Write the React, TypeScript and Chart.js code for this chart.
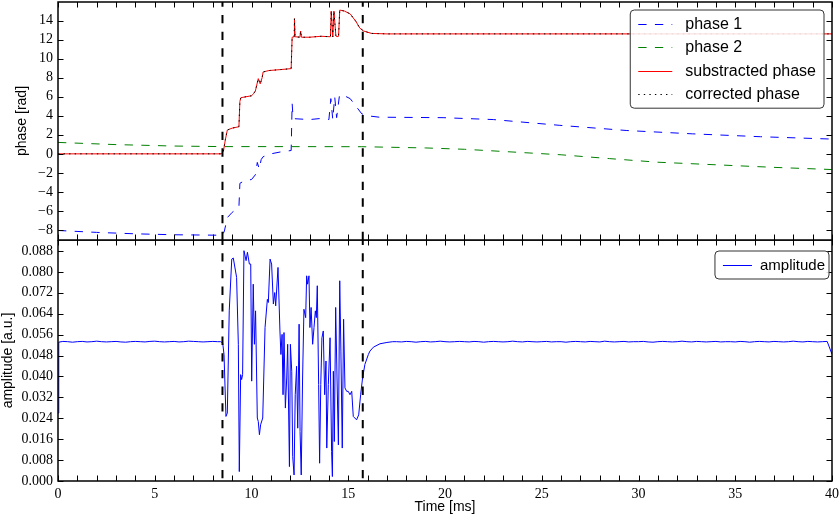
import React, { useEffect, useRef } from 'react';
import { Chart, registerables } from 'chart.js';

Chart.register(...registerables);

// ---------- data ----------
const timeTicks = [0, 5, 10, 15, 20, 25, 30, 35, 40];
const timeMinorTicks = [0, 1, 2, 3, 4, 5, 6, 7, 8, 9, 10, 11, 12, 13, 14, 15, 16, 17, 18, 19, 20,
  21, 22, 23, 24, 25, 26, 27, 28, 29, 30, 31, 32, 33, 34, 35, 36, 37, 38, 39, 40];
const phaseTicks = [-8, -6, -4, -2, 0, 2, 4, 6, 8, 10, 12, 14];
const ampTicks = [0, 0.008, 0.016, 0.024, 0.032, 0.04, 0.048, 0.056, 0.064, 0.072, 0.08, 0.088];

const PHASE_MIN = -9.05;
const PHASE_MAX = 15.95;
const AMP_MIN = 0;
const AMP_MAX = 0.0922;
const TIME_MIN = 0;
const TIME_MAX = 40;

// vertical event markers (ms)
const markerTimes = [8.5, 15.75];

const phase1Time = [0, 2, 4, 6, 8.5, 8.6, 8.75, 9.0, 9.35, 9.4, 9.65, 10.0, 10.2, 10.3, 10.4, 10.5, 10.6, 11.0, 11.5, 12.05, 12.1, 12.15, 13.0, 13.5, 14.0, 14.1, 14.2, 14.3, 14.4, 14.55, 14.8, 15.1, 15.4, 15.7, 16.0, 16.6, 19.9, 22.5, 25.9, 29.4, 32.8, 36.3, 40];
const phase1Value = [-8.05, -8.25, -8.4, -8.5, -8.55, -8.1, -6.7, -6.15, -5.6, -3.1, -2.8, -2.7, -2.2, -0.9, -1.6, -0.6, -0.3, 0.0, 0.2, 0.35, 5.3, 3.7, 3.6, 3.7, 3.6, 5.8, 3.6, 6.0, 3.8, 6.2, 6.1, 5.8, 5.0, 4.2, 4.0, 3.85, 3.8, 3.6, 3.0, 2.45, 2.1, 1.8, 1.55];

const phase2Time = [0, 3, 6, 8.5, 12, 15.7, 19, 21, 23, 26, 28.5, 31, 34, 37, 40];
const phase2Value = [1.2, 0.97, 0.82, 0.76, 0.76, 0.75, 0.62, 0.48, 0.25, -0.1, -0.5, -0.88, -1.15, -1.42, -1.65];

const subTime = [0, 8.45, 8.55, 8.65, 8.75, 9.0, 9.35, 9.4, 9.45, 10.0, 10.1, 10.2, 10.35, 10.45, 10.55, 10.6, 10.9, 11.5, 12.05, 12.1, 12.2, 12.22, 12.25, 12.5, 12.54, 12.58, 13.0, 13.6, 14.08, 14.12, 14.2, 14.26, 14.36, 14.42, 14.5, 14.56, 14.8, 15.1, 15.4, 15.6, 15.8, 16.2, 17, 40];
const subValue = [0, 0, 0.3, 1.5, 2.5, 2.7, 2.85, 5.5, 5.9, 6.1, 6.3, 6.6, 7.9, 7.35, 8.0, 8.6, 8.75, 8.85, 8.95, 12.25, 12.3, 14.2, 12.3, 12.25, 12.9, 12.25, 12.25, 12.35, 12.3, 15.0, 12.3, 15.0, 12.4, 12.3, 12.35, 15.1, 15.0, 14.7, 13.9, 13.2, 12.9, 12.65, 12.6, 12.6];

const corrTime = [0, 8.45, 8.55, 8.65, 8.75, 9.0, 9.35, 9.4, 9.45, 10.0, 10.1, 10.2, 10.35, 10.45, 10.55, 10.6, 10.9, 11.5, 12.05, 12.1, 12.2, 12.22, 12.25, 12.5, 12.54, 12.58, 13.0, 13.6, 14.08, 14.12, 14.2, 14.26, 14.36, 14.42, 14.5, 14.56, 14.8, 15.1, 15.4, 15.6, 15.8, 16.2, 17, 40];
const corrValue = [0, 0, 0.3, 1.5, 2.5, 2.7, 2.85, 5.5, 5.9, 6.1, 6.3, 6.6, 7.9, 7.35, 8.0, 8.6, 8.75, 8.85, 8.95, 12.25, 12.3, 14.2, 12.3, 12.25, 12.9, 12.25, 12.25, 12.35, 12.3, 15.0, 12.3, 15.0, 12.4, 12.3, 12.35, 15.1, 15.0, 14.7, 13.9, 13.2, 12.9, 12.65, 12.6, 12.6];

// amplitude: start transient
const ampHeadTime = [0, 0.04];
const ampHeadValue = [0.026, 0.0531];
// amplitude: quiet baseline before the event, sampled every 0.25 ms from 0.25 ms
const ampPreStart = 0.25;
const ampPreStep = 0.25;
const ampPreValue = [0.0534, 0.0533, 0.0531, 0.0533, 0.0534, 0.0532, 0.0533, 0.0535, 0.0533, 0.0532,
  0.0533, 0.0534, 0.0532, 0.0531, 0.0533, 0.0534, 0.0533, 0.0532, 0.0534, 0.0535,
  0.0533, 0.0532, 0.0533, 0.0534, 0.0532, 0.0533, 0.0535, 0.0534, 0.0533, 0.0532,
  0.0533, 0.0534, 0.0533];
// amplitude: during the event
const ampEventTime = [8.4, 8.51, 8.58, 8.68, 8.75, 8.85, 8.98, 9.06, 9.23, 9.32,
  9.37, 9.44, 9.49, 9.54, 9.61, 9.72, 9.79, 9.89, 9.96, 10.01,
  10.09, 10.15, 10.21, 10.30, 10.35, 10.41, 10.47, 10.58, 10.70, 10.82,
  10.87, 10.96, 11.04, 11.13, 11.20, 11.25, 11.37, 11.47, 11.52, 11.58,
  11.63, 11.68, 11.75, 11.82, 11.87, 11.96, 12.01, 12.08, 12.13, 12.20,
  12.26, 12.33, 12.39, 12.46, 12.51, 12.57, 12.64, 12.71, 12.80, 12.85,
  12.90, 12.97, 13.02, 13.08, 13.16, 13.23, 13.30, 13.35, 13.40, 13.47,
  13.52, 13.58, 13.64, 13.71, 13.78, 13.85, 13.89, 13.97, 14.06, 14.14,
  14.18, 14.23, 14.28, 14.35, 14.42, 14.49, 14.56, 14.62, 14.69, 14.76,
  14.83, 14.92, 15.00, 15.09, 15.18, 15.26, 15.43, 15.54, 15.64, 15.74,
  15.86, 16.04, 16.12, 16.3, 16.64, 17.0, 17.3];
const ampEventValue = [0.0533, 0.0529, 0.0484, 0.0247, 0.0260, 0.0651, 0.0849, 0.0853, 0.0779, 0.0523,
  0.0036, 0.0407, 0.0388, 0.0407, 0.0881, 0.0843, 0.0875, 0.0830, 0.0830, 0.0382,
  0.0753, 0.0523, 0.0651, 0.0241, 0.0228, 0.0177, 0.0215, 0.0241, 0.0587, 0.0695,
  0.0683, 0.0849, 0.0830, 0.0677, 0.0721, 0.0670, 0.0817, 0.0574, 0.0484, 0.0561,
  0.0330, 0.0568, 0.0279, 0.0394, 0.0523, 0.0055, 0.0523, 0.0420, 0.0093, 0.0023,
  0.0330, 0.0439, 0.0202, 0.0600, 0.0189, 0.0023, 0.0394, 0.0657, 0.0625, 0.0785,
  0.0753, 0.0785, 0.0587, 0.0664, 0.0523, 0.0587, 0.0651, 0.0625, 0.0747, 0.0369,
  0.0068, 0.0369, 0.0548, 0.0574, 0.0330, 0.0459, 0.0126, 0.0369, 0.0548, 0.0113,
  0.0017, 0.0420, 0.0151, 0.0664, 0.0394, 0.0138, 0.0766, 0.0497, 0.0126, 0.0619,
  0.0356, 0.0343, 0.0343, 0.0330, 0.0343, 0.0247, 0.0234, 0.0253, 0.0330, 0.0394,
  0.0446, 0.0484, 0.0497, 0.0512, 0.0525, 0.0530, 0.0533];
// amplitude: quiet baseline after the event, sampled every 0.25 ms from 17.5 ms
const ampPostStart = 17.5;
const ampPostStep = 0.25;
const ampPostValue = [0.0533, 0.0532, 0.0534, 0.0533, 0.0531, 0.0533, 0.0534, 0.0532, 0.0533, 0.0535,
  0.0533, 0.0532, 0.0533, 0.0534, 0.0533, 0.0532, 0.0534, 0.0533, 0.0531, 0.0533,
  0.0534, 0.0533, 0.0532, 0.0533, 0.0535, 0.0533, 0.0532, 0.0534, 0.0533, 0.0532,
  0.0533, 0.0534, 0.0532, 0.0533, 0.0533, 0.0531, 0.0533, 0.0534, 0.0533, 0.0532,
  0.0534, 0.0533, 0.0532, 0.0535, 0.0533, 0.0532, 0.0533, 0.0534, 0.0532, 0.0533,
  0.0533, 0.0534, 0.0532, 0.0531, 0.0533, 0.0534, 0.0533, 0.0532, 0.0533, 0.0535,
  0.0533, 0.0532, 0.0534, 0.0533, 0.0532, 0.0533, 0.0534, 0.0532, 0.0533, 0.0533,
  0.0532, 0.0534, 0.0533, 0.0531, 0.0533, 0.0534, 0.0533, 0.0532, 0.0534, 0.0533,
  0.0532, 0.0533, 0.0535, 0.0533, 0.0532, 0.0534, 0.0533, 0.0532, 0.0533, 0.0534];
const ampTailTime = [40];
const ampTailValue = [0.0485];

// ---------- helpers ----------
type Pt = { x: number; y: number };
const pairs = (t: number[], v: number[]): Pt[] => t.map((x, i) => ({ x, y: v[i] }));
const sampled = (start: number, step: number, v: number[]): Pt[] =>
  v.map((y, i) => ({ x: +(start + i * step).toFixed(4), y }));

const amplitudePoints: Pt[] = [
  ...pairs(ampHeadTime, ampHeadValue),
  ...sampled(ampPreStart, ampPreStep, ampPreValue),
  ...pairs(ampEventTime, ampEventValue),
  ...sampled(ampPostStart, ampPostStep, ampPostValue),
  ...pairs(ampTailTime, ampTailValue),
];

const PT = 100 / 72; // px per point
const DASH = [6 * PT, 6 * PT];
const DOT = [1 * PT, 3 * PT];
const LW = 1;
const FRAME_LW = 1.5;

const SERIF = '"Liberation Serif", "DejaVu Serif", serif';
const SANS = '"Liberation Sans", "DejaVu Sans", sans-serif';

const fmtPhase = (v: number) => (v < 0 ? '\u2212' + Math.abs(v) : String(v));

const markerDatasets = (lo: number, hi: number) =>
  markerTimes.map((t) => ({
    label: '',
    data: [{ x: t, y: lo }, { x: t, y: hi }],
    borderColor: '#000000',
    borderWidth: 2,
    borderDash: DASH,
    pointRadius: 0,
    fill: false,
    order: 0,
  }));

// frame with inward ticks on all sides + matplotlib-like legend
const mplPlugin = {
  id: 'mplFrame',
  afterDraw(chart: any, _args: any, opts: any) {
    const { ctx, chartArea: a, scales } = chart;
    const x = scales.x;
    const y = scales.y;
    ctx.save();
    ctx.strokeStyle = '#000';
    ctx.lineWidth = 1;
    ctx.setLineDash([]);
    const tl = 5.5;
    ctx.beginPath();
    for (const t of timeMinorTicks) {
      const px = Math.round(x.getPixelForValue(t)) + 0.5;
      ctx.moveTo(px, a.top);
      ctx.lineTo(px, a.top + tl);
      ctx.moveTo(px, a.bottom);
      ctx.lineTo(px, a.bottom - tl);
    }
    for (const v of opts.yTicks as number[]) {
      const py = Math.round(y.getPixelForValue(v)) + 0.5;
      ctx.moveTo(a.left, py);
      ctx.lineTo(a.left + tl, py);
      ctx.moveTo(a.right, py);
      ctx.lineTo(a.right - tl, py);
    }
    ctx.stroke();
    ctx.lineWidth = FRAME_LW;
    ctx.strokeRect(a.left, a.top, a.right - a.left, a.bottom - a.top);

    // legend
    const lg = opts.legend;
    const items = chart.data.datasets.filter((d: any) => d.label);
    if (items.length && lg) {
      ctx.font = `${lg.fontSize}px ${SANS}`;
      const textW = Math.max(...items.map((d: any) => ctx.measureText(d.label).width));
      const { padX, padR, sample, gap, rowH, padY } = lg;
      const w = padX + sample + gap + textW + padR;
      const h = 2 * padY + (items.length - 1) * rowH;
      const right = a.right - lg.right;
      const top = a.top + lg.top;
      const left = right - w;
      const r = 4;
      ctx.beginPath();
      ctx.moveTo(left + r, top);
      ctx.arcTo(left + w, top, left + w, top + h, r);
      ctx.arcTo(left + w, top + h, left, top + h, r);
      ctx.arcTo(left, top + h, left, top, r);
      ctx.arcTo(left, top, left + w, top, r);
      ctx.closePath();
      ctx.fillStyle = 'rgba(255,255,255,0.85)';
      ctx.fill();
      ctx.strokeStyle = '#333';
      ctx.lineWidth = 1;
      ctx.stroke();
      items.forEach((d: any, i: number) => {
        const cy = Math.round(top + padY + i * rowH) + 0.5;
        ctx.strokeStyle = d.borderColor;
        ctx.lineWidth = d.borderWidth;
        ctx.setLineDash(d.borderDash || []);
        ctx.beginPath();
        ctx.moveTo(left + padX, cy);
        ctx.lineTo(left + padX + sample, cy);
        ctx.stroke();
        ctx.setLineDash([]);
        ctx.fillStyle = '#000';
        ctx.textBaseline = 'middle';
        ctx.textAlign = 'left';
        ctx.fillText(d.label, left + padX + sample + gap, cy);
      });
    }
    ctx.restore();
  },
};

const yAxis = (min: number, max: number, ticks: number[], fmt: (v: number) => string, title: string, titlePad: number) => ({
  type: 'linear',
  position: 'left',
  min,
  max,
  afterBuildTicks: (s: any) => {
    s.ticks = ticks.map((v) => ({ value: v }));
  },
  afterFit: (s: any) => {
    s.width = 58;
    s.paddingTop = 0;
    s.paddingBottom = 0;
  },
  grid: { display: false, drawTicks: false },
  border: { display: false },
  ticks: {
    padding: 5,
    color: '#000',
    font: { family: SERIF, size: 14 },
    callback: (v: any) => fmt(Number(v)),
  },
  title: {
    display: true,
    text: title,
    color: '#000',
    font: { family: SANS, size: 14 },
    padding: { top: titlePad, bottom: 0 },
  },
});

const lineDs = (label: string, data: Pt[], color: string, dash: number[], order: number) => ({
  label,
  data,
  borderColor: color,
  backgroundColor: color,
  borderWidth: LW,
  borderDash: dash,
  pointRadius: 0,
  pointHoverRadius: 0,
  fill: false,
  tension: 0,
  order,
});

export default function App() {
  const topRef = useRef<HTMLCanvasElement>(null);
  const botRef = useRef<HTMLCanvasElement>(null);

  useEffect(() => {
    const top = new Chart(topRef.current as HTMLCanvasElement, {
      type: 'line',
      data: {
        datasets: [
          lineDs('phase 1', pairs(phase1Time, phase1Value), '#0000ff', DASH, 4),
          lineDs('phase 2', pairs(phase2Time, phase2Value), '#008000', DASH, 3),
          lineDs('substracted phase', pairs(subTime, subValue), '#ff0000', [], 2),
          lineDs('corrected phase', pairs(corrTime, corrValue), '#000000', DOT, 1),
          ...markerDatasets(PHASE_MIN, PHASE_MAX),
        ] as any,
      },
      options: {
        responsive: false,
        animation: false,
        devicePixelRatio: 1,
        events: [],
        layout: { padding: { left: 0, right: 8, top: 2, bottom: 1 } },
        plugins: {
          legend: { display: false },
          tooltip: { enabled: false },
          mplFrame: {
            yTicks: phaseTicks,
            legend: { fontSize: 16, padX: 8, padR: 8, sample: 34, gap: 13, rowH: 23.4, padY: 14, right: 8, top: 8 },
          },
        } as any,
        scales: {
          x: { type: 'linear', min: TIME_MIN, max: TIME_MAX, display: false },
          y: yAxis(PHASE_MIN, PHASE_MAX, phaseTicks, fmtPhase, 'phase [rad]', 14) as any,
        },
      },
      plugins: [mplPlugin],
    });

    const bot = new Chart(botRef.current as HTMLCanvasElement, {
      type: 'line',
      data: {
        datasets: [
          lineDs('amplitude', amplitudePoints, '#0000ff', [], 2),
          ...markerDatasets(AMP_MIN - 1, AMP_MAX + 1),
        ] as any,
      },
      options: {
        responsive: false,
        animation: false,
        devicePixelRatio: 1,
        events: [],
        layout: { padding: { left: 0, right: 8, top: 0, bottom: 0 } },
        plugins: {
          legend: { display: false },
          tooltip: { enabled: false },
          mplFrame: {
            yTicks: ampTicks,
            legend: { fontSize: 15, padX: 8, padR: 4, sample: 29, gap: 8, rowH: 23.4, padY: 14, right: 3, top: 11 },
          },
        } as any,
        scales: {
          x: {
            type: 'linear',
            min: TIME_MIN,
            max: TIME_MAX,
            afterBuildTicks: (s: any) => {
              s.ticks = timeTicks.map((v) => ({ value: v }));
            },
            afterFit: (s: any) => {
              s.height = 35;
              s.paddingLeft = 0;
              s.paddingRight = 0;
            },
            grid: { display: false, drawTicks: false },
            border: { display: false },
            ticks: {
              padding: 5,
              color: '#000',
              autoSkip: false,
              maxRotation: 0,
              font: { family: SERIF, size: 14 },
              callback: (v: any) => String(v),
            },
            title: {
              display: true,
              text: 'Time [ms]',
              color: '#000',
              font: { family: SANS, size: 14 },
              padding: { top: 0, bottom: 0 },
            },
          } as any,
          y: yAxis(AMP_MIN, AMP_MAX, ampTicks, (v) => v.toFixed(3), 'amplitude [a.u.]', 0) as any,
        },
      },
      plugins: [mplPlugin],
    });

    return () => {
      top.destroy();
      bot.destroy();
    };
  }, []);

  return (
    <div style={{ position: 'fixed', left: 0, top: 0, width: 840, height: 516, background: '#fff', overflow: 'hidden' }}>
      <canvas ref={topRef} width={840} height={241} style={{ position: 'absolute', left: 0, top: 0, width: 840, height: 241 }} />
      <canvas ref={botRef} width={840} height={276} style={{ position: 'absolute', left: 0, top: 240, width: 840, height: 276 }} />
    </div>
  );
}
